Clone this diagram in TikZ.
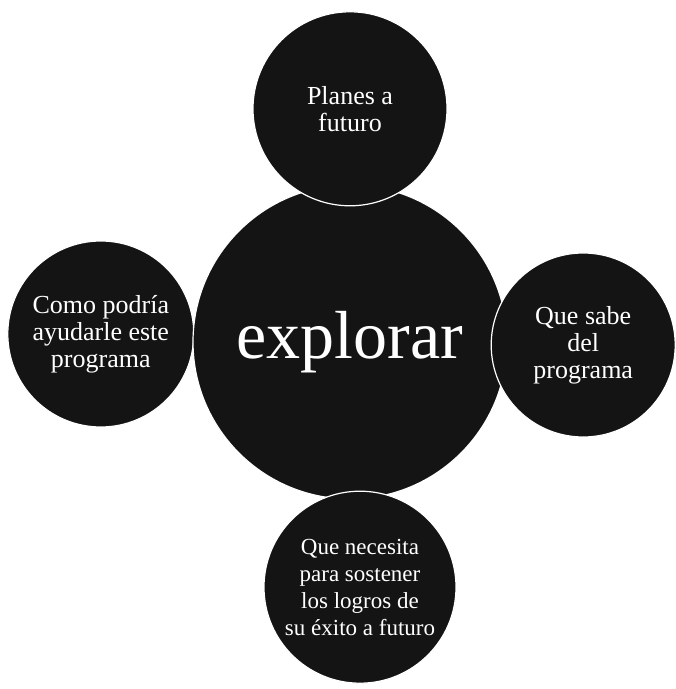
\documentclass[tikz,border=0pt]{standalone}
\usepackage{fontspec}
\setmainfont{Liberation Serif}
\usetikzlibrary{positioning,backgrounds}
\definecolor{ballink}{HTML}{141414}
\tikzset{ball/.style={circle,draw=white,line width=1.2pt,fill=ballink,text=white,align=center,inner sep=0pt,font=\fontsize{26}{27}\selectfont},hubball/.style={ball,minimum size=314pt,font=\fontsize{68}{70}\selectfont}}
\begin{document}
\begin{tikzpicture}[x=1pt,y=1pt]
\useasboundingbox (0,0) rectangle (676,689);
\node[hubball] (hub) at (350,347) {explorar};
\begin{scope}[on background layer]
\node[ball,minimum size=186pt,left=-2pt of hub,yshift=8pt] (ayuda) {Como podría\\ayudarle este\\programa};
\end{scope}
\node[ball,minimum size=194pt,above=-22pt of hub] (planes) {Planes a\\futuro};
\node[ball,minimum size=184pt,right=-17pt of hub,yshift=-3pt] (sabe) {Que sabe\\del\\programa};
\node[ball,minimum size=192pt,below=-9pt of hub,xshift=10pt,font=\fontsize{23}{27}\selectfont] (logros) {Que necesita\\para sostener\\los logros de\\su éxito a futuro};
\end{tikzpicture}
\end{document}
